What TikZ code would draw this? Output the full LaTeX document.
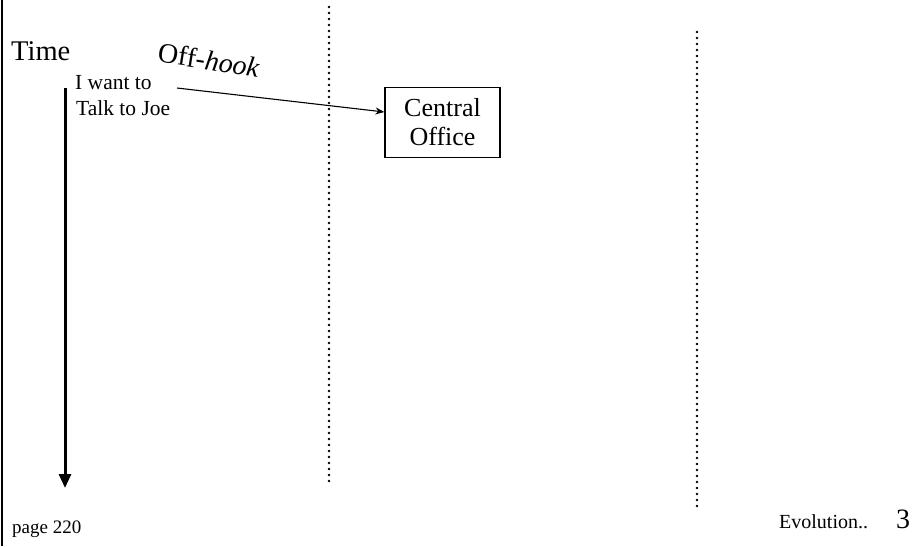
\documentclass[tikz,border=0pt]{standalone}
\usepackage{fontspec}
\setmainfont{Liberation Serif}
\usetikzlibrary{arrows.meta}

\newcommand{\fsz}[2]{\fontsize{#1}{#2}\selectfont}

\tikzset{
  label text/.style={inner sep=0pt, anchor=base west},
  lifeline/.style={line width=2.6pt, line cap=round, dash pattern=on 0pt off 6pt},
  msgarrow/.style={line width=1.1pt, -{Stealth[length=9pt,width=7pt]}},
  timearrow/.style={line width=3pt, -{Triangle[length=14pt,width=12pt]}},
  officebox/.style={draw, line width=1.2pt, minimum width=115pt, minimum height=70pt,
                    align=center, inner sep=0pt, font=\fsz{26}{29}}
}

\begin{document}
\begin{tikzpicture}[x=1pt, y=-1pt]
  \useasboundingbox (0,0) rectangle (917,546);

  % left margin rule
  \coordinate (railtop) at (2,0);
  \coordinate (railbot) at (2,546);
  \draw[line width=2.5pt] (railtop) -- (railbot);

  % lifelines
  \coordinate (lineAtop) at (329,7);
  \coordinate (lineAbot) at (329,485);
  \coordinate (lineBtop) at (697,32);
  \coordinate (lineBbot) at (697,506);
  \draw[lifeline] (lineAtop) -- (lineAbot);
  \draw[lifeline] (lineBtop) -- (lineBbot);

  % time axis
  \node[label text, font=\fsz{28.5}{32}] (timelbl) at (11,60) {Time};
  \coordinate (timetop) at (65,88);
  \coordinate (timeend) at (65,488);
  \draw[timearrow] (timetop) -- (timeend);

  % request text
  \node[label text, font=\fsz{21.5}{26}] (msgA) at (75,89) {I want to};
  \node[label text, font=\fsz{21.5}{26}] (msgB) at (76,115) {Talk to Joe};

  % off-hook signal
  \node[inner sep=0pt, rotate=-9, font=\fsz{28}{32}] (offhook) at (209,60) {Off-\textit{hook}};

  % central office
  \node[officebox] (CO) at (442.5,122.5) {Central\\Office};
  \coordinate (sigstart) at (177,88);
  \draw[msgarrow] (sigstart) -- ([yshift=10.5pt]CO.west);

  % footer
  \node[label text, font=\fsz{19}{22}] (pagelbl) at (12,533) {page 220};
  \node[label text, font=\fsz{20}{24}] (evol) at (779,528) {Evolution..};
  \node[label text, font=\fsz{28}{32}] (slideno) at (896,528) {3};
\end{tikzpicture}
\end{document}
